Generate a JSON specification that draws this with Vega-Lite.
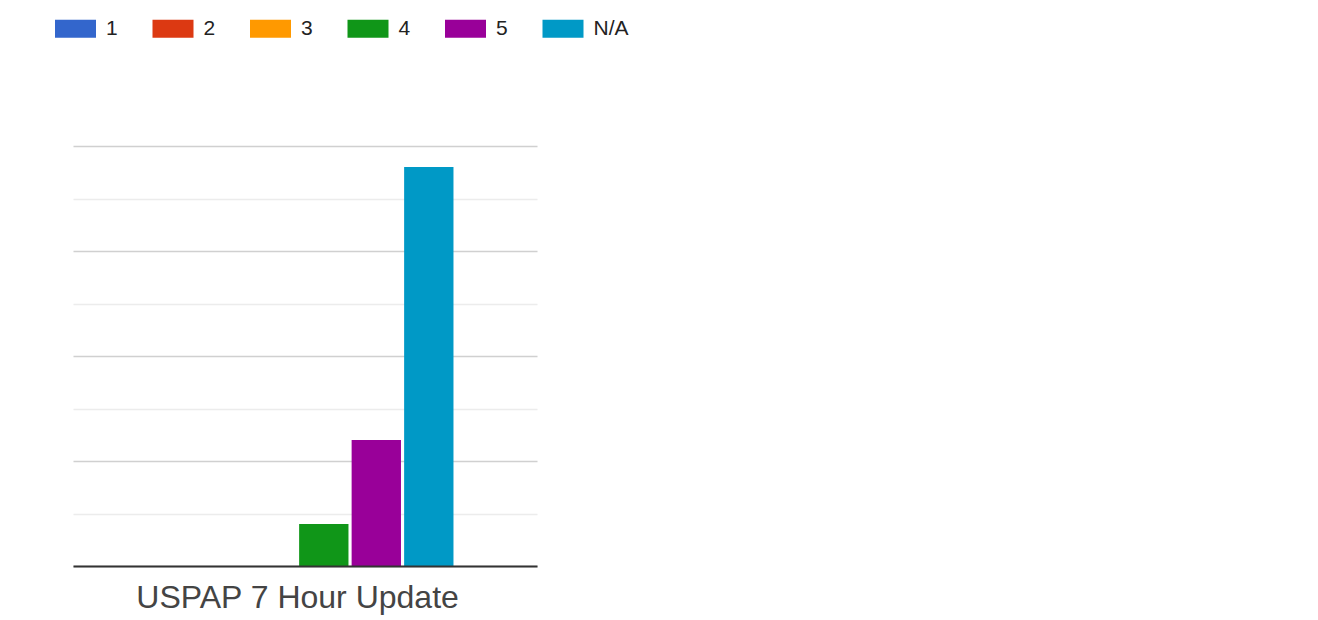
{
  "$schema": "https://vega.github.io/schema/vega-lite/v6.json",
  "autosize": "none",
  "width": 464,
  "height": 420,
  "padding": {"left": 73, "top": 146, "right": 781, "bottom": 54},
  "background": "white",
  "config": {
    "view": {"stroke": null},
    "font": "Liberation Sans"
  },
  "data": {
    "values": [
      {"course": "USPAP 7 Hour Update", "rating": "1", "count": 0},
      {"course": "USPAP 7 Hour Update", "rating": "2", "count": 0},
      {"course": "USPAP 7 Hour Update", "rating": "3", "count": 0},
      {"course": "USPAP 7 Hour Update", "rating": "4", "count": 4},
      {"course": "USPAP 7 Hour Update", "rating": "5", "count": 12},
      {"course": "USPAP 7 Hour Update", "rating": "N/A", "count": 38}
    ]
  },
  "mark": {"type": "bar"},
  "encoding": {
    "x": {
      "field": "course",
      "type": "nominal",
      "scale": {"paddingInner": 0, "paddingOuter": 0.2365, "align": 0.45},
      "axis": {
        "title": null,
        "labelAngle": 0,
        "labelFontSize": 32,
        "labelLimit": 0,
        "labelColor": "#444444",
        "labelPadding": 16,
        "ticks": false,
        "domainColor": "#333333",
        "domainWidth": 2,
        "zindex": 1
      }
    },
    "xOffset": {
      "field": "rating",
      "type": "nominal",
      "sort": ["1", "2", "3", "4", "5", "N/A"],
      "scale": {"paddingInner": 0.06, "paddingOuter": 0.03}
    },
    "y": {
      "field": "count",
      "type": "quantitative",
      "scale": {"domain": [0, 40], "nice": false},
      "axis": {
        "title": null,
        "labels": false,
        "ticks": false,
        "domain": false,
        "values": [0, 5, 10, 15, 20, 25, 30, 35, 40],
        "gridWidth": 1.5,
        "gridColor": {
          "condition": {"test": "datum.value % 10 === 0", "value": "#d0d0d0"},
          "value": "#ececec"
        }
      }
    },
    "color": {
      "field": "rating",
      "type": "nominal",
      "sort": ["1", "2", "3", "4", "5", "N/A"],
      "scale": {
        "domain": ["1", "2", "3", "4", "5", "N/A"],
        "range": ["#3366CC", "#DC3912", "#FF9900", "#109618", "#990099", "#0099C6"]
      },
      "legend": {
        "title": null,
        "orient": "none",
        "direction": "horizontal",
        "legendX": -18,
        "legendY": -138,
        "padding": 0,
        "symbolType": "M-1,-0.44H1V0.44H-1Z",
        "symbolSize": 1681,
        "symbolStrokeWidth": 0,
        "symbolOpacity": 1,
        "labelOffset": 10,
        "labelFontSize": 21,
        "labelColor": "#222222",
        "columnPadding": 34.5
      }
    }
  }
}
